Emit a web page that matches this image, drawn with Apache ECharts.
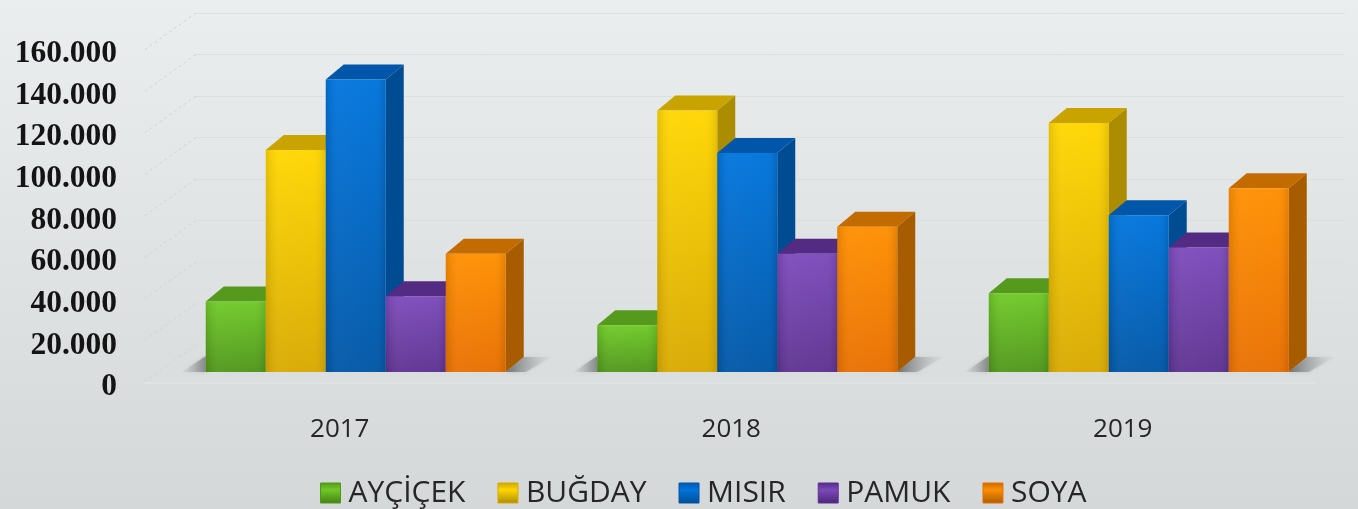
<!DOCTYPE html>
<html>
<head>
<meta charset="UTF-8">
<title>Üretim</title>
<script src="https://cdn.jsdelivr.net/npm/echarts@6/dist/echarts.min.js"></script>
<style>
html, body { margin: 0; padding: 0; }
#demo { width: 1358px; height: 509px; }
</style>
</head>
<body>
<div id="demo"></div>
<script>
var years = ['2017', '2018', '2019'];
var aycicek = [34000, 22500, 38000];
var bugday = [107000, 126000, 120000];
var misir = [141000, 105500, 75500];
var pamuk = [36500, 57000, 60000];
var soya = [57000, 70000, 88500];
var ticks = [0, 20000, 40000, 60000, 80000, 100000, 120000, 140000, 160000];

var names = ['AYÇİÇEK', 'BUĞDAY', 'MISIR', 'PAMUK', 'SOYA'];
var values = [aycicek, bugday, misir, pamuk, soya];
// front top, front bottom, side, top face
var colors = [
    ['#6fc927', '#4f961a', '#467f16', '#55991d'],
    ['#ffd600', '#d8a900', '#ac8c00', '#c9a400'],
    ['#0074dc', '#0056a6', '#004c92', '#0057aa'],
    ['#7c4abb', '#5d3290', '#4b2677', '#532b82'],
    ['#ff8f00', '#e86f00', '#a85c00', '#c26c00']
];

var barW = 60;
var depthX = 18;
var depthY = -15;

function vGrad(a, b) {
    return new echarts.graphic.LinearGradient(0, 0, 0, 1, [
        {offset: 0, color: a}, {offset: 1, color: b}
    ]);
}

// soft bands across the front face
function sheen() {
    return new echarts.graphic.LinearGradient(0, 0, 1, 0, [
        {offset: 0, color: 'rgba(0,0,0,0.10)'},
        {offset: 0.2, color: 'rgba(255,255,255,0.05)'},
        {offset: 0.8, color: 'rgba(255,255,255,0.03)'},
        {offset: 1, color: 'rgba(0,0,0,0.10)'}
    ]);
}

// one 3D column: side, top, then front
function barRender(idx) {
    return function (params, api) {
        var top = api.coord([api.value(0), api.value(1)]);
        var base = api.coord([api.value(0), 0]);
        var x = top[0] + (idx - 2.5) * barW;
        var y = top[1];
        var y0 = base[1];
        var c = colors[idx];
        return {
            type: 'group',
            children: [
                {type: 'polygon', shape: {points: [[x + barW, y], [x + barW + depthX, y + depthY], [x + barW + depthX, y0 + depthY], [x + barW, y0]]}, style: {fill: c[2]}},
                {type: 'polygon', shape: {points: [[x, y], [x + depthX, y + depthY], [x + barW + depthX, y + depthY], [x + barW, y]]}, style: {fill: c[3]}},
                {type: 'rect', shape: {x: x, y: y, width: barW, height: y0 - y}, style: {fill: vGrad(c[0], c[1])}},
                {type: 'rect', shape: {x: x, y: y, width: barW, height: y0 - y}, style: {fill: sheen()}}
            ]
        };
    };
}

// floor shadow on both sides of a group
function shadowRender(params, api) {
    var p = api.coord([api.value(0), 0]);
    var left = p[0] - 2.5 * barW;
    var right = p[0] + 2.5 * barW;
    var y = p[1];
    return {
        type: 'group',
        children: [
            {type: 'polygon', shape: {points: [[left, y], [left, y - 16], [left - 24, y]]}, style: {shadowBlur: 4, shadowColor: 'rgba(140,143,143,0.4)', fill: new echarts.graphic.LinearGradient(1, 0, 0, 0, [{offset: 0, color: '#858888'}, {offset: 1, color: 'rgba(180,183,183,0.1)'}])}},
            {type: 'polygon', shape: {points: [[right, y], [right + depthX, y + depthY], [right + 46, y + depthY], [right + 20, y]]}, style: {shadowBlur: 4, shadowColor: 'rgba(140,143,143,0.4)', fill: new echarts.graphic.LinearGradient(0, 0, 1, 0, [{offset: 0, color: '#6d7070'}, {offset: 1, color: 'rgba(195,198,198,0.1)'}])}}
        ]
    };
}

// dashed side-wall lines from back wall to front, plus the front floor line
function wallRender(params, api) {
    var p = api.coord([0, api.value(0)]);
    var children = [{
        type: 'line',
        shape: {x1: p[0], y1: p[1], x2: p[0] - 53, y2: p[1] + 38},
        style: {stroke: '#d0d3d4', lineWidth: 1, lineDash: [3, 3]}
    }];
    if (api.value(0) === 0) {
        var r = api.coord([1, 0]);
        children.push({
            type: 'line',
            shape: {x1: p[0] - 53, y1: p[1] + 38, x2: r[0] - 30, y2: p[1] + 38},
            style: {stroke: '#e6e8e6', lineWidth: 1}
        });
    }
    return {type: 'group', children: children};
}

var series = [
    {
        type: 'custom',
        silent: true,
        xAxisIndex: 1,
        yAxisIndex: 1,
        renderItem: wallRender,
        encode: {y: 0},
        data: ticks.map(function (t) { return [t]; })
    },
    {
        type: 'custom',
        silent: true,
        xAxisIndex: 2,
        yAxisIndex: 2,
        renderItem: shadowRender,
        data: years.map(function (y, i) { return [i, 0]; })
    }
];
names.forEach(function (name, i) {
    series.push({
        name: name,
        type: 'custom',
        xAxisIndex: 2,
        yAxisIndex: 2,
        renderItem: barRender(i),
        itemStyle: {color: colors[i][0]},
        encode: {x: 0, y: 1},
        data: values[i].map(function (v, k) { return [k, v]; })
    });
});

var chart = echarts.init(document.getElementById('demo'));
var option = {
    animation: false,
    backgroundColor: vGrad('#ebeeef', '#d4d8d9'),
    grid: [
        {left: 144, width: 1174.5, top: 54, height: 333},  // front plane, labels only
        {left: 196, width: 1149, top: 13, height: 332},    // back wall
        {left: 160, width: 1174.5, top: 40, height: 332}   // bars
    ],
    xAxis: [
        {
            gridIndex: 0,
            type: 'category',
            data: years,
            axisLine: {show: false},
            axisTick: {show: false},
            axisLabel: {margin: 30, fontFamily: 'Open Sans', fontSize: 26, color: '#262626'}
        },
        {gridIndex: 1, type: 'value', min: 0, max: 1, show: false},
        {gridIndex: 2, type: 'category', data: years, show: false}
    ],
    yAxis: [
        {
            gridIndex: 0,
            type: 'value',
            min: 0,
            max: 160000,
            interval: 20000,
            axisLine: {show: false},
            axisTick: {show: false},
            splitLine: {show: false},
            axisLabel: {
                margin: 27,
                fontFamily: 'Liberation Serif',
                fontWeight: 'bold',
                fontSize: 31.5,
                color: '#141414',
                formatter: function (v) {
                    return String(v).replace(/\B(?=(\d{3})+$)/g, '.');
                }
            }
        },
        {
            gridIndex: 1,
            type: 'value',
            min: 0,
            max: 160000,
            interval: 20000,
            axisLine: {show: false},
            axisTick: {show: false},
            axisLabel: {show: false},
            splitLine: {lineStyle: {color: '#dcdfdf', width: 1}}
        },
        {gridIndex: 2, type: 'value', min: 0, max: 160000, show: false}
    ],
    legend: {
        left: 315,
        top: 473,
        itemWidth: 20,
        itemHeight: 20,
        itemGap: 32,
        icon: 'rect',
        textStyle: {fontFamily: 'Open Sans', fontSize: 30, color: '#262626', padding: [0, 0, 0, 3]},
        data: names.map(function (n, i) {
            return {
                name: n,
                itemStyle: {
                    color: new echarts.graphic.LinearGradient(0, 0, 0, 1, [
                        {offset: 0, color: colors[i][3]},
                        {offset: 0.35, color: colors[i][0]},
                        {offset: 1, color: colors[i][2]}
                    ]),
                    borderColor: colors[i][1],
                    borderWidth: 1
                }
            };
        })
    },
    series: series
};
chart.setOption(option);
</script>
</body>
</html>
